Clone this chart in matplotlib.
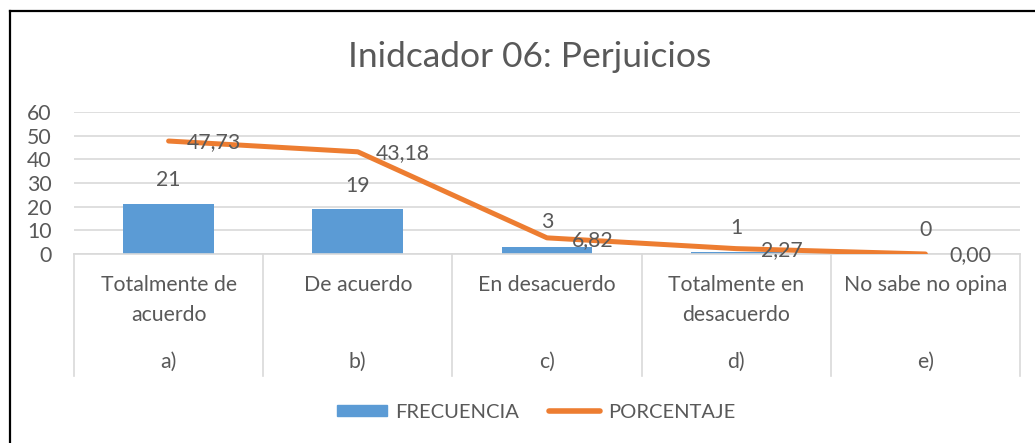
import numpy as np
import matplotlib
matplotlib.use("Agg")
import matplotlib.pyplot as plt
from matplotlib.lines import Line2D
from matplotlib.patches import Patch
import matplotlib.transforms as mtransforms

# datos del grafico
categorias = ["Totalmente de\nacuerdo", "De acuerdo", "En desacuerdo",
              "Totalmente en\ndesacuerdo", "No sabe no opina"]
letras = ["a)", "b)", "c)", "d)", "e)"]
frecuencia = [21, 19, 3, 1, 0]
porcentaje = [47.73, 43.18, 6.82, 2.27, 0.00]

# posiciones de las etiquetas (movidas a mano en el original)
pos_etq_frec = [31.3, 28.7, 13.5, 11.0, 10.1]
pos_etq_pct = [47.3, 42.7, 5.9, 1.7, -0.4]

gris_texto = "#595959"
gris_linea = "#d9d9d9"
azul = "#5b9bd5"
naranja = "#ed7d31"

plt.rcParams["font.family"] = ["Lato", "DejaVu Sans"]
fs = 15.3

W, H = 1035, 443
fig = plt.figure(figsize=(W / 100, H / 100), dpi=100)
ax = fig.add_axes([74 / W, 1 - 254 / H, 946 / W, 142 / H])

x = np.arange(len(categorias))
ax.bar(x, frecuencia, width=0.48, color=azul, zorder=2)
ax.plot(x, porcentaje, color=naranja, lw=3.6, solid_capstyle="round", zorder=3)

ax.set_xlim(-0.5, len(categorias) - 0.5)
ax.set_ylim(0, 60)
ax.set_yticks(range(0, 61, 10))
ax.yaxis.grid(True, color=gris_linea, lw=1.2)
ax.set_axisbelow(True)
for s in ["top", "right", "left"]:
    ax.spines[s].set_visible(False)
ax.spines["bottom"].set_color(gris_linea)
ax.spines["bottom"].set_linewidth(1.2)
ax.tick_params(axis="y", length=0, labelsize=fs, labelcolor=gris_texto, pad=16)
ax.set_xticks([])

# etiquetas de datos
for i in x:
    ax.text(i, pos_etq_frec[i], f"{frecuencia[i]}", ha="center", va="center",
            fontsize=fs, color=gris_texto, zorder=4)
    ax.text(i + 0.24, pos_etq_pct[i], f"{porcentaje[i]:.2f}".replace(".", ","),
            ha="center", va="center", fontsize=fs, color=gris_texto, zorder=4)

# eje de categorias en dos niveles
trans = mtransforms.blended_transform_factory(ax.transData, ax.transAxes)
bajo = -(376 - 254) / 142
for b in np.arange(-0.5, len(categorias)):
    ax.plot([b, b], [0, bajo], transform=trans, color=gris_linea, lw=1.2, clip_on=False)
for i in x:
    ax.text(i, -(275 - 254) / 142, categorias[i], transform=trans, ha="center", va="top",
            fontsize=fs, color=gris_texto, linespacing=1.65)
    ax.text(i, -(362 - 254) / 142, letras[i], transform=trans, ha="center", va="center",
            fontsize=fs, color=gris_texto)

fig.text(530 / W, 1 - 57 / H, "Inidcador 06: Perjuicios", ha="center", va="center",
         fontsize=25.5, color=gris_texto)

handles = [Patch(color=azul), Line2D([0], [0], color=naranja, lw=4, solid_capstyle="round")]
fig.legend(handles, ["FRECUENCIA", "PORCENTAJE"], loc="center", ncol=2,
           bbox_to_anchor=(536 / W, 1 - 412 / H), frameon=False, fontsize=14.5,
           labelcolor=gris_texto, handlelength=2.5, handleheight=0.45,
           handletextpad=0.4, columnspacing=1.5)

# marco (solo izquierda y arriba visibles)
fig.add_artist(Line2D([10 / W, 10 / W], [0, 1 - 11 / H], color="black", lw=1.6))
fig.add_artist(Line2D([10 / W, 1], [1 - 11 / H, 1 - 11 / H], color="black", lw=1.6))

fig.savefig("out.png", dpi=100, facecolor="white")
